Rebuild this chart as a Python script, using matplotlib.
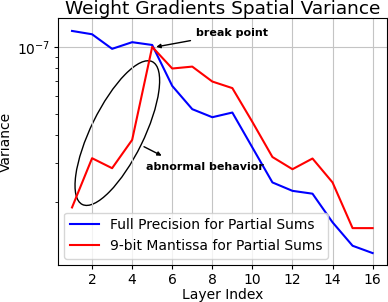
import numpy as np
import matplotlib
matplotlib.use('Agg')
import matplotlib.pyplot as plt
from matplotlib.patches import Ellipse
from matplotlib.ticker import NullFormatter
import matplotlib.transforms as mtransforms

layers = np.arange(1, 17)
full_precision = [1.18e-7, 1.14e-7, 0.98e-7, 1.05e-7, 1.02e-7, 0.667e-7, 0.524e-7, 0.482e-7,
                  0.506e-7, 0.352e-7, 0.245e-7, 0.2245e-7, 0.218e-7, 0.162e-7, 0.127e-7, 0.1177e-7]
mantissa_9bit = [0.189e-7, 0.315e-7, 0.284e-7, 0.381e-7, 1.0e-7, 0.799e-7, 0.815e-7, 0.698e-7,
                 0.652e-7, 0.459e-7, 0.319e-7, 0.281e-7, 0.314e-7, 0.245e-7, 0.1525e-7, 0.1525e-7]

fig = plt.figure(figsize=(3.88, 3.02), dpi=100)
ax = fig.add_axes([0.1495, 0.1225, 0.847, 0.818])

ax.plot(layers, full_precision, color='blue', lw=1.5, label='Full Precision for Partial Sums')
ax.plot(layers, mantissa_9bit, color='red', lw=1.5, label='9-bit Mantissa for Partial Sums')
ax.set_yscale('log')
ax.set_ylim(1.04e-8, 1.35e-7)
ax.set_xlim(0.3, 16.7)
ax.set_xticks(np.arange(2, 17, 2))
ax.yaxis.set_minor_formatter(NullFormatter())
ax.grid(True, which='major', color='#c4c4c4')
ax.tick_params(labelsize=10, length=3, pad=2.5)
ax.tick_params(which='minor', length=2)

ax.set_title('Weight Gradients Spatial Variance', fontsize=13.3, pad=2)
ax.set_xlabel('Layer Index', fontsize=10, labelpad=1)
ax.set_ylabel('Variance', fontsize=10, labelpad=3)
ax.legend(loc='lower left', fontsize=10, borderaxespad=0.45, handlelength=2.1)

# ellipse around the abnormal region, sized in pixels
offset = mtransforms.ScaledTranslation(0.1805, 0.534, ax.transAxes)
ell = Ellipse((0, 0), width=1.59, height=0.53, angle=63.9, fill=False,
              edgecolor='black', lw=1.0, transform=fig.dpi_scale_trans + offset)
ax.add_patch(ell)

ax.annotate('break point', xy=(5.2, 1.0e-7), xytext=(196, 269), textcoords='figure pixels',
            fontsize=8, fontweight='bold', va='center',
            arrowprops=dict(arrowstyle='-|>', color='black', lw=1, mutation_scale=6, shrinkA=2, shrinkB=0))
ax.annotate('', xy=(161.7, 146.3), xytext=(144, 155.3), xycoords='figure pixels', textcoords='figure pixels',
            arrowprops=dict(arrowstyle='-|>', color='black', lw=1, mutation_scale=6, shrinkA=0, shrinkB=0))
ax.text(146, 135, 'abnormal behavior', transform=None, fontsize=8, fontweight='bold', va='center')

fig.savefig('out.png', dpi=100)
